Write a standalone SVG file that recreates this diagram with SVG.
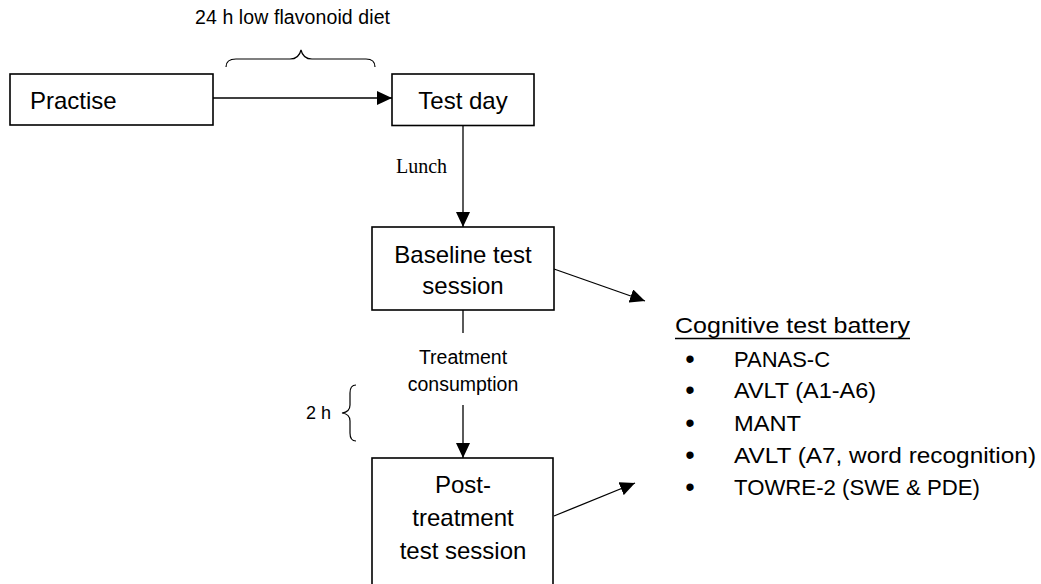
<svg xmlns="http://www.w3.org/2000/svg" width="1041" height="584" viewBox="0 0 1041 584">
  <style>
    .box { fill: #ffffff; stroke: #000000; stroke-width: 1.6; }
    .line { fill: none; stroke: #000000; stroke-width: 1.3; }
    .brace { fill: none; stroke: #000000; stroke-width: 1.2; }
    .sans { font-family: "Liberation Sans", Arial, sans-serif; fill: #000000; }
    .serif { font-family: "Liberation Serif", "Times New Roman", serif; fill: #000000; }
    .node { font-size: 24px; }
    .small { font-size: 19.5px; }
    .list { font-size: 22px; }
    .bullet { font-size: 27px; }
  </style>
  <defs>
    <marker id="ah" viewBox="0 0 15 14" refX="15" refY="7" markerWidth="15" markerHeight="14" markerUnits="userSpaceOnUse" orient="auto">
      <path d="M0,0 L15,7 L0,14 z" fill="#000000"/>
    </marker>
  </defs>
  <rect width="1041" height="584" fill="#ffffff"/>

  <g id="connectors">
    <path class="line" d="M213,98 L392,98" marker-end="url(#ah)"/>
    <path class="line" d="M463,126 L463,227" marker-end="url(#ah)"/>
    <path class="line" d="M554,269 L645,301" marker-end="url(#ah)"/>
    <path class="line" d="M463,310 L463,333"/>
    <path class="line" d="M463,405 L463,458" marker-end="url(#ah)"/>
    <path class="line" d="M554,516 L635,483" marker-end="url(#ah)"/>
  </g>

  <g id="label-diet">
    <text class="sans" x="195" y="24.3" font-size="19.5" textLength="195" lengthAdjust="spacing">24 h low flavonoid diet</text>
    <path class="brace" d="M226,67 Q226,59 236,59 L290,59 Q299,59 301,50 Q303,59 312,59 L366,59 Q375,59 375,67"/>
  </g>

  <g id="node-practise">
    <rect class="box" x="10" y="74" width="203" height="51"/>
    <text class="sans node" x="30" y="109">Practise</text>
  </g>

  <g id="node-testday">
    <rect class="box" x="392" y="74" width="142" height="51.5"/>
    <text class="sans node" x="463" y="109.3" text-anchor="middle">Test day</text>
  </g>

  <g id="label-lunch">
    <text class="serif" x="396" y="172.7" font-size="20">Lunch</text>
  </g>

  <g id="node-baseline">
    <rect class="box" x="372" y="227" width="182" height="83"/>
    <text class="sans node" x="463" y="262.7" text-anchor="middle">Baseline test</text>
    <text class="sans node" x="463" y="294" text-anchor="middle">session</text>
  </g>

  <g id="label-treatment">
    <text class="sans small" x="463" y="364.3" text-anchor="middle">Treatment</text>
    <text class="sans small" x="463" y="390.7" text-anchor="middle">consumption</text>
  </g>

  <g id="label-2h">
    <text class="sans" x="306" y="419.3" font-size="18">2 h</text>
    <path class="brace" d="M356,385 Q350,385 350,393 L350,405 Q350,412 342,413 Q350,414 350,421 L350,433 Q350,441 356,441"/>
  </g>

  <g id="node-post">
    <rect class="box" x="372" y="458" width="181" height="140"/>
    <text class="sans node" x="463" y="493.3" text-anchor="middle">Post-</text>
    <text class="sans node" x="463" y="526" text-anchor="middle">treatment</text>
    <text class="sans node" x="463" y="559" text-anchor="middle">test session</text>
  </g>

  <g id="node-battery">
    <text class="sans list" x="675" y="333.3" textLength="235" lengthAdjust="spacingAndGlyphs">Cognitive test battery</text>
    <line x1="675" y1="338.5" x2="910" y2="338.5" stroke="#000000" stroke-width="1.3"/>
    <text class="sans bullet" x="690" y="367.5" text-anchor="middle">•</text>
    <text class="sans list" x="734" y="366.7" textLength="96" lengthAdjust="spacingAndGlyphs">PANAS-C</text>
    <text class="sans bullet" x="690" y="399" text-anchor="middle">•</text>
    <text class="sans list" x="734" y="398.3" textLength="142" lengthAdjust="spacingAndGlyphs">AVLT (A1-A6)</text>
    <text class="sans bullet" x="690" y="431.5" text-anchor="middle">•</text>
    <text class="sans list" x="734" y="430.7" textLength="67" lengthAdjust="spacingAndGlyphs">MANT</text>
    <text class="sans bullet" x="690" y="463.5" text-anchor="middle">•</text>
    <text class="sans list" x="734" y="462.7" textLength="302" lengthAdjust="spacingAndGlyphs">AVLT (A7, word recognition)</text>
    <text class="sans bullet" x="690" y="495.8" text-anchor="middle">•</text>
    <text class="sans list" x="734" y="495" textLength="246" lengthAdjust="spacingAndGlyphs">TOWRE-2 (SWE &amp; PDE)</text>
  </g>
</svg>
